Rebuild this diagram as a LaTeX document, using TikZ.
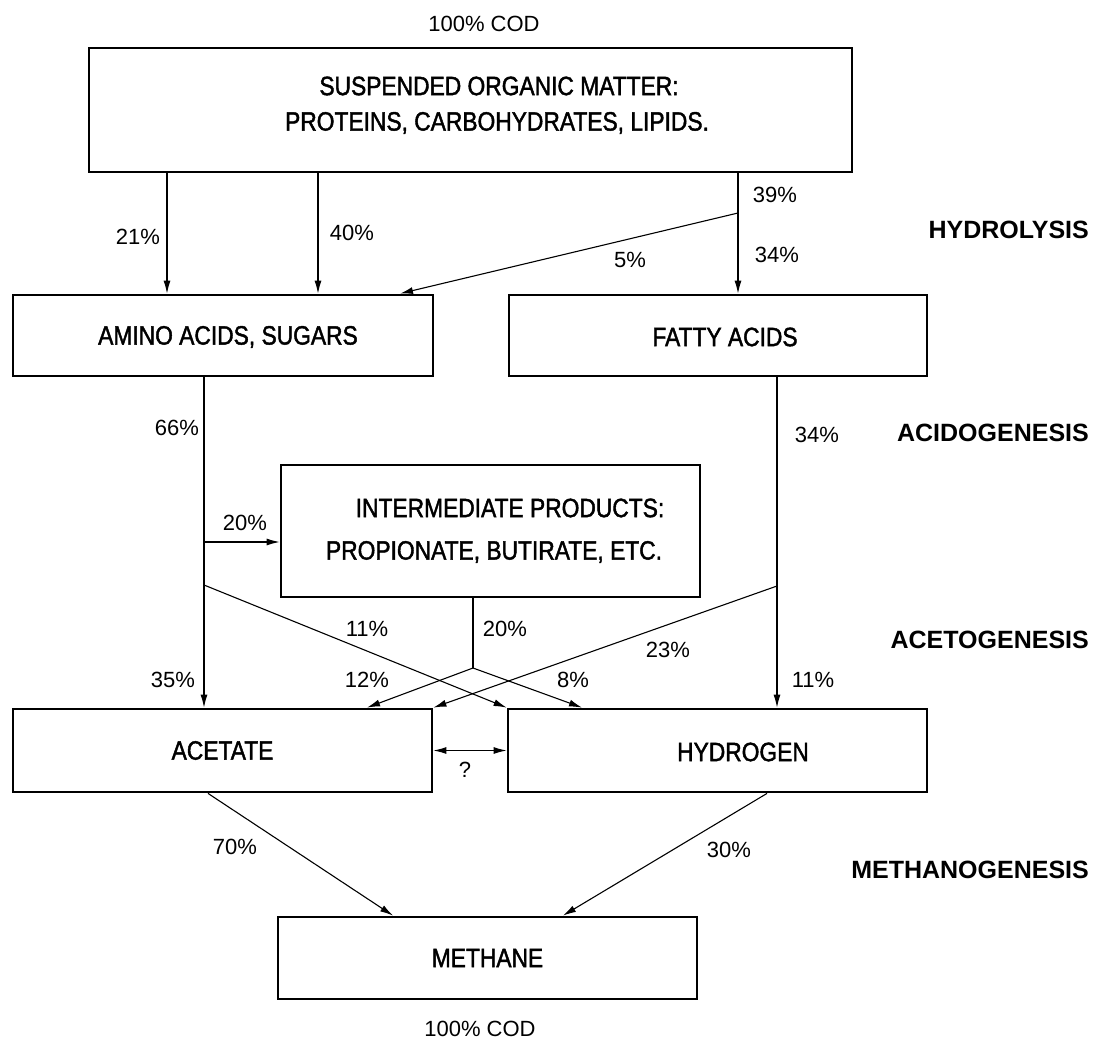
\documentclass[tikz,border=0pt]{standalone}
\usepackage{fontspec}
\setmainfont{Liberation Sans}
\newfontfamily\boxfont[FakeStretch=0.86,FakeBold=1.6]{Liberation Sans}
\usetikzlibrary{arrows.meta}
\tikzset{
  box/.style={draw, line width=2.8pt, rectangle, inner sep=0pt,
    font=\boxfont\fontsize{26.5}{30}\selectfont},
  boxtext/.style={inner sep=0pt, font=\boxfont\fontsize{26.5}{30}\selectfont},
  pct/.style={inner sep=0pt, font=\fontsize{22}{26}\selectfont},
  stage/.style={inner sep=0pt, anchor=east, font=\bfseries\fontsize{25}{30}\selectfont},
  flow/.style={line width=1.1pt, -{Latex[length=13pt,width=7pt]}},
  dflow/.style={line width=1.1pt, {Latex[length=13pt,width=7pt]}-{Latex[length=13pt,width=7pt]}},
  link/.style={line width=1.1pt},
}
\begin{document}
\begin{tikzpicture}[x=1pt,y=-1pt]
\useasboundingbox[fill=white] (0,0) rectangle (1108,1043);

% boxes
\node[box, minimum width=763pt, minimum height=124pt] (top) at (470.5,110) {};
\node[boxtext] (topt1) at (499,86) {SUSPENDED ORGANIC MATTER:};
\node[boxtext] (topt2) at (497,123) {PROTEINS, CARBOHYDRATES, LIPIDS.};

\node[box, minimum width=420pt, minimum height=81pt] (amino) at (223,335.5) {};
\node[boxtext] (aminot) at (228,337) {AMINO ACIDS, SUGARS};
\node[box, minimum width=418pt, minimum height=81pt] (fatty) at (718,335.5) {};
\node[boxtext] (fattyt) at (725,337) {FATTY ACIDS};

\node[box, minimum width=419pt, minimum height=132pt] (inter) at (490.5,531) {};
\node[boxtext] (intert1) at (510,508) {INTERMEDIATE PRODUCTS:};
\node[boxtext] (intert2) at (494,552) {PROPIONATE, BUTIRATE, ETC.};

\node[box, minimum width=419pt, minimum height=83pt] (acetate) at (222.5,750.5) {ACETATE};
\node[box, minimum width=419pt, minimum height=83pt] (hydrogen) at (717.5,750.5) {};
\node[boxtext] (hydrogent) at (743,752) {HYDROGEN};

\node[box, minimum width=419pt, minimum height=82pt] (methane) at (487.5,958) {METHANE};

% free-end coordinates
\coordinate (xa) at (167,0);
\coordinate (xb) at (318,0);
\coordinate (xc) at (738,0);
\coordinate (xd) at (400,0);
\coordinate (j39) at (738,213);
\coordinate (xe) at (204,0);
\coordinate (j20) at (204,542);
\coordinate (jx1) at (204,585);
\coordinate (xf) at (777,0);
\coordinate (jx2) at (777,586);
\coordinate (jm) at (473,668);
\coordinate (xg) at (367,0);
\coordinate (xh) at (582,0);
\coordinate (xi) at (208,0);
\coordinate (xj) at (393,0);
\coordinate (xk) at (767,0);
\coordinate (xl) at (563,0);

% hydrolysis
\draw[flow] (top.south -| xa) -- (amino.north -| xa);
\draw[flow] (top.south -| xb) -- (amino.north -| xb);
\draw[flow] (top.south -| xc) -- (fatty.north -| xc);
\draw[flow] (j39) -- (amino.north -| xd);

% acidogenesis / acetogenesis
\draw[flow] (amino.south -| xe) -- (acetate.north -| xe);
\draw[flow] (j20) -- (inter.west |- j20);
\draw[flow] (fatty.south -| xf) -- (hydrogen.north -| xf);
\draw[flow] (jx1) -- (hydrogen.north west);
\draw[flow] (jx2) -- (acetate.north east);
\draw[link] (inter.south -| jm) -- (jm);
\draw[flow] (jm) -- (acetate.north -| xg);
\draw[flow] (jm) -- (hydrogen.north -| xh);
\draw[dflow] (acetate.east) -- (hydrogen.west);

% methanogenesis
\draw[flow] (acetate.south -| xi) -- (methane.north -| xj);
\draw[flow] (hydrogen.south -| xk) -- (methane.north -| xl);

% labels
\node[pct] (codtop) at (484,24) {100\% COD};
\node[pct] (codbot) at (480,1029) {100\% COD};
\node[pct] (p21) at (138,237) {21\%};
\node[pct] (p40) at (352,233) {40\%};
\node[pct] (p39) at (775,195) {39\%};
\node[pct] (p34a) at (777,255) {34\%};
\node[pct] (p5) at (630,260) {5\%};
\node[pct] (p66) at (177,428) {66\%};
\node[pct] (p20a) at (245,523) {20\%};
\node[pct] (p34b) at (817,435) {34\%};
\node[pct] (p11a) at (367,629) {11\%};
\node[pct] (p20b) at (505,629) {20\%};
\node[pct] (p23) at (668,650) {23\%};
\node[pct] (p35) at (173,680) {35\%};
\node[pct] (p12) at (367,680) {12\%};
\node[pct] (p8) at (573,680) {8\%};
\node[pct] (p11b) at (813,680) {11\%};
\node[pct] (pq) at (465,770) {?};
\node[pct] (p70) at (235,847) {70\%};
\node[pct] (p30) at (729,850) {30\%};

\node[stage] (s1) at (1089,230) {HYDROLYSIS};
\node[stage] (s2) at (1089,433) {ACIDOGENESIS};
\node[stage] (s3) at (1089,640) {ACETOGENESIS};
\node[stage] (s4) at (1089,870) {METHANOGENESIS};
\end{tikzpicture}
\end{document}
